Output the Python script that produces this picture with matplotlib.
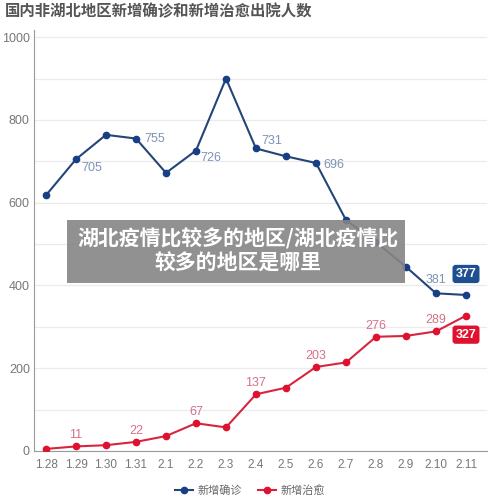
import matplotlib
matplotlib.use("Agg")
import matplotlib.pyplot as plt
from matplotlib.patches import Rectangle
from matplotlib.lines import Line2D

plt.rcParams['font.family'] = ['Liberation Sans', 'Noto Sans CJK SC', 'DejaVu Sans']

dates = ["1.28", "1.29", "1.30", "1.31", "2.1", "2.2", "2.3", "2.4", "2.5", "2.6", "2.7", "2.8", "2.9", "2.10", "2.11"]
confirmed = [618, 705, 764, 755, 672, 726, 900, 731, 712, 696, 558, 505, 445, 381, 377]
cured = [5, 11, 14, 22, 36, 67, 57, 137, 153, 203, 214, 276, 278, 289, 327]
series_names = ["新增确诊", "新增治愈"]
title = "国内非湖北地区新增确诊和新增治愈出院人数"
overlay = "湖北疫情比较多的地区/湖北疫情比\n较多的地区是哪里"

blue_line = "#244577"
blue_pt = "#173f86"
blue_lbl = "#7d93b5"
red_line = "#d8253e"
red_pt = "#e0102f"
red_lbl = "#d4718a"

fig = plt.figure(figsize=(5, 5.04), dpi=100)
ax = fig.add_axes([0.068, 0.1052, 0.906, 0.835])
x = list(range(len(dates)))

ax.plot(x, confirmed, color=blue_line, lw=1.5, marker='o', ms=4.5,
        mfc=blue_pt, mec=blue_pt, zorder=3)
ax.plot(x, cured, color=red_line, lw=1.5, marker='o', ms=4.5,
        mfc=red_pt, mec=red_pt, zorder=3)

ax.set_xlim(-0.4, 14.7)
ax.set_ylim(0, 1017)
ax.set_yticks(range(0, 1001, 200))
ax.set_yticks(range(100, 1000, 200), minor=True)
ax.grid(axis='y', which='both', color='#ebebeb', lw=0.9)
ax.set_axisbelow(True)
ax.set_xticks(x)
ax.set_xticklabels(dates)
for s in ['top', 'right']:
    ax.spines[s].set_visible(False)
for s in ['left', 'bottom']:
    ax.spines[s].set_color('#9a9a9a')
ax.tick_params(axis='both', which='both', length=0, colors='#777777')
ax.tick_params(axis='x', labelsize=8.5, pad=6)
ax.tick_params(axis='y', labelsize=9, pad=3)

# blue labels: (index, dx, dy, ha)
blue_labels = [(1, 5, -9, 'left'), (3, 8, 0, 'left'), (5, 4, -7, 'left'),
               (7, 5, 7, 'left'), (9, 7, -2, 'left'), (13, 0, 13, 'center')]
for i, dx, dy, ha in blue_labels:
    ax.annotate(str(confirmed[i]), (x[i], confirmed[i]), xytext=(dx, dy),
                textcoords='offset pixels', ha=ha, va='center',
                color=blue_lbl, fontsize=9, zorder=4)
for i in [1, 3, 5, 7, 9, 11, 13]:
    ax.annotate(str(cured[i]), (x[i], cured[i]), xytext=(0, 11),
                textcoords='offset pixels', ha='center', va='center',
                color=red_lbl, fontsize=9, zorder=4)

# callouts at last point
last = len(dates) - 1
ax.annotate(str(confirmed[last]), (x[last], confirmed[last]), xytext=(0, 21),
            textcoords='offset pixels', ha='center', va='center',
            color='white', fontsize=9, fontweight='bold', zorder=5,
            bbox=dict(boxstyle='round,pad=0.25', fc='#1d4f91', ec='none'))
ax.annotate(str(cured[last]), (x[last], cured[last]), xytext=(0, -19),
            textcoords='offset pixels', ha='center', va='center',
            color='white', fontsize=9, fontweight='bold', zorder=5,
            bbox=dict(boxstyle='round,pad=0.25', fc='#e0102f', ec='none'))

fig.text(0.01, 0.977, title, fontsize=11.1, fontweight='bold', color='#555555',
         ha='left', va='center')

handles = [Line2D([0], [0], color=blue_line, lw=1.5, marker='o', ms=4.5,
                  mfc=blue_pt, mec=blue_pt),
           Line2D([0], [0], color=red_line, lw=1.5, marker='o', ms=4.5,
                  mfc=red_pt, mec=red_pt)]
leg = fig.legend(handles, series_names, loc='center', bbox_to_anchor=(0.5, 0.027),
                 ncol=2, frameon=False, fontsize=8, handlelength=1.6,
                 handletextpad=0.4, columnspacing=1.5)
for t in leg.get_texts():
    t.set_color('#666666')

# grey overlay banner
fig.patches.append(Rectangle((67 / 500, 1 - 283 / 504), (405 - 67) / 500, 63 / 504,
                             transform=fig.transFigure, fc='#858585', alpha=0.9,
                             ec='none', zorder=10))
fig.text(238 / 500, 1 - 251 / 504, overlay, ha='center', va='center',
         color='white', fontsize=15, fontweight='bold', linespacing=1.15,
         family=['Noto Sans CJK SC'], zorder=11)

fig.savefig("out.png", dpi=100)
